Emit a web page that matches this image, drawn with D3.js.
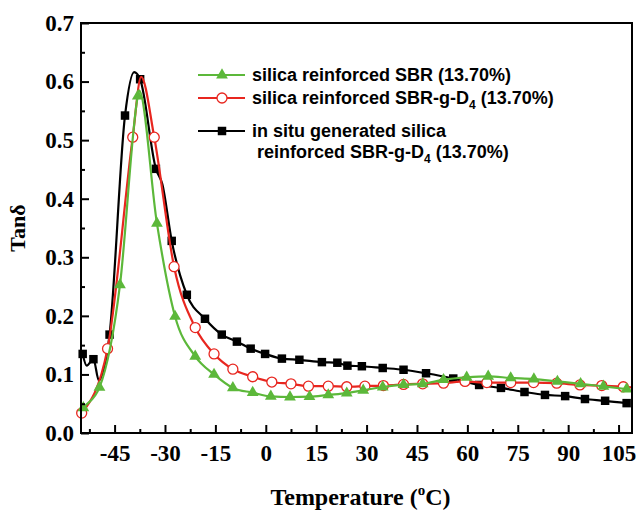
<!DOCTYPE html>
<meta charset="utf-8">
<style>
  body { margin: 0; background: #fff; }
  .tick text, .title { font-family: "Liberation Serif", "Times New Roman", serif; font-weight: bold; fill: #000; }
  .legend text { font-family: "Liberation Sans", Arial, sans-serif; font-weight: bold; font-size: 18px; fill: #000; }
</style>
<body></body>
<script src="https://d3js.org/d3.v7.min.js"></script>
<script>
// silica reinforced SBR (green, triangles)
var sbrT = [-54.3, -49.5, -43.4, -38.1, -32.4, -27, -21, -15.4, -9.8, -3.9, 1.5, 7.2, 13, 18.6, 24.1, 29, 34.8, 41, 46.7, 52.9, 59.8, 66.2, 72.9, 79.8, 86.8, 93.7, 100.5, 107.4];
var sbrV = [0.043, 0.078, 0.253, 0.575, 0.358, 0.199, 0.131, 0.1, 0.077, 0.069, 0.0625, 0.0615, 0.062, 0.065, 0.068, 0.073, 0.0785, 0.0825, 0.084, 0.091, 0.095, 0.0967, 0.094, 0.092, 0.088, 0.084, 0.0796, 0.075];
var sbrCurveT = [-55, -37.7];          // extra points (no marker)
var sbrCurveV = [0.038, 0.585];

// silica reinforced SBR-g-D4 (red, open circles)
var gD4T = [-54.8, -47.1, -39.6, -33.2, -27.3, -21, -15.4, -9.8, -3.9, 1.8, 7.5, 12.7, 18.6, 24.1, 29.5, 35, 41, 46.7, 52.9, 59.3, 65.8, 72.9, 79.7, 86.6, 93.5, 100, 106.4];
var gD4V = [0.034, 0.144, 0.505, 0.505, 0.284, 0.18, 0.135, 0.109, 0.096, 0.087, 0.084, 0.080, 0.080, 0.079, 0.080, 0.081, 0.083, 0.084, 0.085, 0.088, 0.086, 0.086, 0.086, 0.085, 0.082, 0.081, 0.079];
var gD4CurveT = [-37.1, 109];
var gD4CurveV = [0.608, 0.078];

// in situ generated silica reinforced SBR-g-D4 (black, squares)
var inSituT = [-54.5, -51.3, -46.5, -41.9, -37.4, -32.7, -28, -23.5, -18.1, -13.1, -8.6, -4.5, -0.2, 4.8, 10, 16.7, 21.3, 24.3, 28.6, 34.8, 41, 47.7, 55.8, 63.5, 70, 77, 83.1, 89.1, 95, 101, 107.4];
var inSituV = [0.135, 0.126, 0.168, 0.542, 0.604, 0.451, 0.328, 0.236, 0.195, 0.168, 0.156, 0.144, 0.135, 0.127, 0.125, 0.121, 0.12, 0.115, 0.114, 0.111, 0.108, 0.102, 0.093, 0.082, 0.077, 0.07, 0.065, 0.063, 0.058, 0.055, 0.051];
var inSituCurveT = [-53.3, -49.7, -39.2, -30.8];
var inSituCurveV = [0.115, 0.09, 0.616, 0.425];

var xMajor = [-45, -30, -15, 0, 15, 30, 45, 60, 75, 90, 105];
var xMinor = [-52.5, -37.5, -22.5, -7.5, 7.5, 22.5, 37.5, 52.5, 67.5, 82.5, 97.5];
var yMajor = [0, 0.1, 0.2, 0.3, 0.4, 0.5, 0.6, 0.7];
var yMinor = [0.05, 0.15, 0.25, 0.35, 0.45, 0.55, 0.65];

var W = 636, H = 510;
var m = {left: 81, right: 632, top: 23, bottom: 433};

var svg = d3.select("body").append("svg")
    .attr("width", W)
    .attr("height", H);

var x = d3.scaleLinear().domain([-55, 109]).range([m.left, m.right]);
var y = d3.scaleLinear().domain([0, 0.7]).range([m.bottom, m.top]);

function pts(ts, vs) {
    return ts.map(function (t, i) { return {t: t, v: vs[i]}; });
}
function curvePts(ts, vs, ct, cv) {
    return pts(ts, vs).concat(pts(ct, cv)).sort(function (a, b) { return a.t - b.t; });
}

svg.append("clipPath").attr("id", "plot")
    .append("rect").attr("x", m.left).attr("y", m.top)
    .attr("width", m.right - m.left).attr("height", m.bottom - m.top);

var line = d3.line()
    .x(function (d) { return x(d.t); })
    .y(function (d) { return y(d.v); })
    .curve(d3.curveMonotoneX);

var series = [
    {name: "inSitu", color: "#000000", marker: "square", line: curvePts(inSituT, inSituV, inSituCurveT, inSituCurveV), pts: pts(inSituT, inSituV)},
    {name: "gD4", color: "#e8261f", marker: "circle", line: curvePts(gD4T, gD4V, gD4CurveT, gD4CurveV), pts: pts(gD4T, gD4V)},
    {name: "sbr", color: "#5cb83a", marker: "triangle", line: curvePts(sbrT, sbrV, sbrCurveT, sbrCurveV), pts: pts(sbrT, sbrV)}
];

var symSquare = d3.symbol().type(d3.symbolSquare).size(72);
var symTri = d3.symbol().type(d3.symbolTriangle).size(60);

function drawMarker(g, s, cx, cy) {
    if (s.marker === "circle") {
        g.append("circle").attr("cx", cx).attr("cy", cy).attr("r", 5)
            .attr("fill", "#fff").attr("stroke", s.color).attr("stroke-width", 1.3);
    } else if (s.marker === "square") {
        g.append("path").attr("d", symSquare()).attr("transform", "translate(" + cx + "," + cy + ")")
            .attr("fill", s.color);
    } else {
        g.append("path").attr("d", symTri()).attr("transform", "translate(" + cx + "," + cy + ")")
            .attr("fill", s.color);
    }
}

series.forEach(function (s) {
    var g = svg.append("g");
    g.append("path").datum(s.line)
        .attr("clip-path", "url(#plot)")
        .attr("fill", "none")
        .attr("stroke", s.color)
        .attr("stroke-width", 2.2)
        .attr("d", line);
    s.pts.forEach(function (d) { drawMarker(g, s, x(d.t), y(d.v)); });
});

// frame
svg.append("rect").attr("x", m.left).attr("y", m.top)
    .attr("width", m.right - m.left).attr("height", m.bottom - m.top)
    .attr("fill", "none").attr("stroke", "#000").attr("stroke-width", 2);

// axes with inward ticks
svg.append("g").attr("transform", "translate(0," + m.bottom + ")")
    .call(d3.axisBottom(x).tickValues(xMajor).tickSizeInner(-8).tickSizeOuter(0).tickPadding(12)
        .tickFormat(function (d) { return String(d); }));
svg.append("g").attr("transform", "translate(0," + m.bottom + ")")
    .call(d3.axisBottom(x).tickValues(xMinor).tickSizeInner(-4).tickSizeOuter(0).tickFormat(""));
svg.append("g").attr("transform", "translate(" + m.left + ",0)")
    .call(d3.axisLeft(y).tickValues(yMajor).tickSizeInner(-8).tickSizeOuter(0).tickPadding(7)
        .tickFormat(function (d) { return d.toFixed(1); }));
svg.append("g").attr("transform", "translate(" + m.left + ",0)")
    .call(d3.axisLeft(y).tickValues(yMinor).tickSizeInner(-4).tickSizeOuter(0).tickFormat(""));

svg.selectAll(".domain").remove();
svg.selectAll(".tick line").attr("stroke", "#000").attr("stroke-width", 2);
svg.selectAll(".tick text").attr("font-size", 23);

// titles
var xt = svg.append("text").attr("class", "title")
    .attr("x", (m.left + m.right) / 2 + 4).attr("y", 505)
    .attr("text-anchor", "middle").attr("font-size", 24);
xt.append("tspan").text("Temperature (");
xt.append("tspan").attr("font-size", 15).attr("dy", -10).text("o");
xt.append("tspan").attr("dy", 10).text("C)");

svg.append("text").attr("class", "title")
    .attr("transform", "translate(25,228) rotate(-90)")
    .attr("text-anchor", "middle").attr("font-size", 22)
    .text("Tan\u03b4");

// legend
var legendRows = [
    {s: series[2], y: 75, lines: [["silica reinforced SBR (13.70%)"]]},
    {s: series[1], y: 98, lines: [["silica reinforced SBR-g-D", "4", " (13.70%)"]]},
    {s: series[0], y: 131, lines: [["in situ generated silica"], ["reinforced SBR-g-D", "4", " (13.70%)"]]}
];
var legend = svg.append("g").attr("class", "legend");
legendRows.forEach(function (r) {
    legend.append("line").attr("x1", 198).attr("x2", 245).attr("y1", r.y).attr("y2", r.y)
        .attr("stroke", r.s.color).attr("stroke-width", 2.2);
    drawMarker(legend, r.s, 222, r.y);
    r.lines.forEach(function (parts, i) {
        var t = legend.append("text")
            .attr("x", i === 0 ? 252 : 257)
            .attr("y", r.y + 6 + i * 21);
        t.append("tspan").text(parts[0]);
        if (parts.length > 1) {
            t.append("tspan").attr("font-size", 12).attr("dy", 5).text(parts[1]);
            t.append("tspan").attr("dy", -5).text(parts[2]);
        }
    });
});
</script>
